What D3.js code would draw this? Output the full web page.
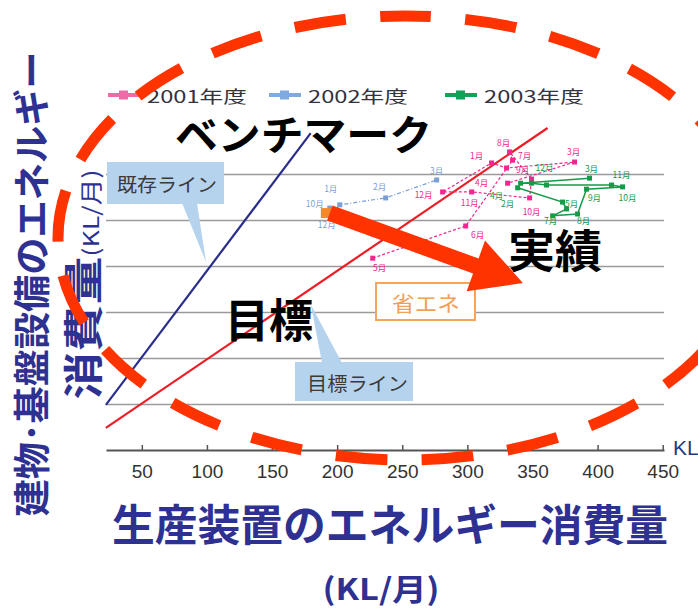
<!DOCTYPE html>
<html>
<head>
<meta charset="utf-8">
<script src="https://cdn.jsdelivr.net/npm/d3@7"></script>
<style>
  body { margin: 0; background: #fff; }
  svg { display: block; }
</style>
</head>
<body>
<svg id="chart" width="698" height="608"></svg>
<script>
// ---- data: monthly energy use (production equipment vs. building/infrastructure), KL/月 ----
const months2001 = ["5月","6月","7月","8月","9月","10月","11月","12月","1月","2月","3月","4月"];
const prod2001   = [227.3, 298.7, 334.7, 332.4, 349.3, 347.8, 303.3, 281.0, 318.6, 330.1, 382.3, 330.9];
const bldg2001   = [41.7, 48.7, 63.0, 64.8, 58.9, 54.8, 56.1, 56.1, 62.4, 61.3, 62.6, 58.0];

const months2002 = ["10月","12月","1月","2月","3月"];
const prod2002   = [194.3, 197.4, 202.0, 237.3, 276.4];
const bldg2002   = [52.6, 52.0, 53.3, 54.8, 58.7];

const months2003 = ["4月","5月","6月","7月","8月","9月","10月","11月","12月","1月","2月","3月"];
const prod2003   = [338.6, 373.1, 376.2, 365.5, 384.6, 391.5, 419.2, 410.7, 360.8, 349.3, 340.9, 393.8];
const bldg2003   = [57.0, 53.9, 52.4, 50.9, 51.3, 56.7, 57.2, 57.6, 57.6, 58.0, 58.0, 59.1];

// reference lines: existing (benchmark) line and target line, given by end points
const benchmarkX = [22.4, 179.7];
const benchmarkY = [9.8, 68.9];
const targetX    = [22.4, 361.6];
const targetY    = [4.8, 70.0];

const xTickValues = [50, 100, 150, 200, 250, 300, 350, 400, 450];
const gridValues  = [10, 20, 30, 40, 50, 60];
const legendLabels = ["2001年度", "2002年度", "2003年度"];

// start point (highlighted month) and tip of the 省エネ arrow
const arrowFrom = [194.4, 51.5];
const arrowTo   = [342.6, 36.3];

// ---- layout ----
const svg = d3.select("#chart");
const navy = "#2e3192";
const jp = "'Noto Sans CJK JP', 'Noto Sans', sans-serif";
const latin = "'Liberation Sans', Arial, sans-serif";

const x = d3.scaleLinear().domain([22.5, 451]).range([106, 664]);
const y = d3.scaleLinear().domain([0, 70]).range([450, 128]);

const seriesStyle = [
  { color: "#f2268e", legend: "#f06aa8", dash: "3,2", width: 1.2 },
  { color: "#7d9fd8", legend: "#7eaae0", dash: "4,2,1,2", width: 1.2 },
  { color: "#129c48", legend: "#0ea457", dash: null, width: 1.5 }
];

// month-label offsets (px) relative to each point; null = no label
const labelOffsets = [
  [[7,9],[12,8],[12,-5],[-6,-10],[-9,-10],[2,13],[-2,10],[-19,2],[-15,-8],null,[-1,-11],[-26,-1]],
  [[-15,-5],[-7,13],[-9,-17],[-6,-12],[0,-10]],
  [[-21,7],[9,1],null,[-2,4],[6,6],[8,8],[5,10],[10,-11],[-2,-18],null,[-13,20],[2,-10]]
];

const series = [
  { months: months2001, xs: prod2001, ys: bldg2001 },
  { months: months2002, xs: prod2002, ys: bldg2002 },
  { months: months2003, xs: prod2003, ys: bldg2003 }
];

// ---- gridlines ----
svg.append("g")
  .attr("transform", `translate(${x.range()[0]},0)`)
  .call(d3.axisLeft(y).tickValues(gridValues).tickSize(-(x.range()[1] - x.range()[0])).tickFormat(""))
  .call(g => g.select(".domain").remove())
  .call(g => g.selectAll(".tick line").attr("stroke", "#9a9a9a").attr("stroke-width", 1.6));

// ---- x axis ----
const xAxis = svg.append("g")
  .attr("transform", `translate(0,${y(0)})`)
  .call(d3.axisBottom(x).tickValues(xTickValues).tickSize(-5).tickSizeOuter(0).tickFormat(d3.format("d")));
xAxis.select(".domain").attr("stroke", "#555").attr("stroke-width", 2);
xAxis.selectAll(".tick line").attr("stroke", "#555").attr("stroke-width", 1.5);
xAxis.selectAll(".tick text")
  .attr("y", 15).attr("dy", "0.71em")
  .attr("font-family", latin).attr("font-size", 19).attr("fill", "#333");

svg.append("text")
  .attr("x", 673).attr("y", 447)
  .attr("dominant-baseline", "central")
  .attr("font-family", latin).attr("font-size", 21).attr("fill", "#1f3a7a")
  .text("KL");

// ---- reference lines ----
svg.append("line")
  .attr("x1", x(benchmarkX[0])).attr("y1", y(benchmarkY[0]))
  .attr("x2", x(benchmarkX[1])).attr("y2", y(benchmarkY[1]))
  .attr("stroke", "#2b2d8c").attr("stroke-width", 2.2);
svg.append("line")
  .attr("x1", x(targetX[0])).attr("y1", y(targetY[0]))
  .attr("x2", x(targetX[1])).attr("y2", y(targetY[1]))
  .attr("stroke", "#ee1c25").attr("stroke-width", 2.2);

// ---- monthly series ----
const line = d3.line().x(d => x(d.x)).y(d => y(d.y));
series.forEach((s, i) => {
  const st = seriesStyle[i];
  const pts = s.months.map((m, k) => ({ m, x: s.xs[k], y: s.ys[k], off: labelOffsets[i][k] }));
  const g = svg.append("g");
  g.append("path").datum(pts)
    .attr("d", line).attr("fill", "none")
    .attr("stroke", st.color).attr("stroke-width", st.width)
    .attr("stroke-dasharray", st.dash);
  g.selectAll("rect").data(pts).join("rect")
    .attr("x", d => x(d.x) - 2.5).attr("y", d => y(d.y) - 2.5)
    .attr("width", 5).attr("height", 5).attr("fill", st.color);
  g.selectAll("text").data(pts.filter(d => d.off)).join("text")
    .attr("x", d => x(d.x) + d.off[0]).attr("y", d => y(d.y) + d.off[1])
    .attr("text-anchor", "middle").attr("dominant-baseline", "central")
    .attr("font-family", jp).attr("font-size", 8.5).attr("fill", st.color)
    .text(d => d.m);
});

// ---- legend ----
const legendX = [108, 269, 445];
legendLabels.forEach((lab, i) => {
  const st = seriesStyle[i];
  const lx = legendX[i], ly = 95;
  svg.append("line").attr("x1", lx).attr("x2", lx + 32).attr("y1", ly).attr("y2", ly)
    .attr("stroke", st.legend).attr("stroke-width", 4);
  svg.append("rect").attr("x", lx + 11).attr("y", ly - 4.5).attr("width", 9).attr("height", 9)
    .attr("fill", st.legend);
  svg.append("text").attr("x", lx + 39).attr("y", ly)
    .attr("dominant-baseline", "central")
    .attr("font-family", jp).attr("font-size", 17).attr("fill", "#33333f")
    .attr("textLength", 100).attr("lengthAdjust", "spacingAndGlyphs")
    .text(lab);
});

// ---- callouts ----
function callout(box, pointer, label, textBox) {
  svg.append("polygon").attr("points", pointer.map(p => p.join(",")).join(" ")).attr("fill", "#b6d3ee");
  svg.append("rect").attr("x", box[0]).attr("y", box[1]).attr("width", box[2]).attr("height", box[3])
    .attr("fill", "#b6d3ee");
  svg.append("text").attr("x", textBox[0]).attr("y", textBox[1])
    .attr("dominant-baseline", "central")
    .attr("font-family", jp).attr("font-size", 19).attr("fill", "#3a3a3a")
    .attr("textLength", textBox[2]).attr("lengthAdjust", "spacingAndGlyphs")
    .text(label);
}
callout([107, 162, 117, 42], [[182, 203], [197, 203], [206, 262]], "既存ライン", [117, 183, 100]);
callout([295, 362, 118, 39], [[322, 363], [342, 363], [311, 305]], "目標ライン", [307, 382, 101]);

// 省エネ box
svg.append("rect").attr("x", 376).attr("y", 283).attr("width", 99).attr("height", 37)
  .attr("fill", "#fff").attr("stroke", "#f6a35c").attr("stroke-width", 2);
svg.append("text").attr("x", 392).attr("y", 302)
  .attr("dominant-baseline", "central")
  .attr("font-family", jp).attr("font-size", 21).attr("fill", "#f2a057")
  .attr("textLength", 68).attr("lengthAdjust", "spacingAndGlyphs")
  .text("省エネ");

// ---- big labels ----
function bigText(txt, x0, yc, size, len) {
  svg.append("text").attr("x", x0).attr("y", yc)
    .attr("dominant-baseline", "central")
    .attr("font-family", jp).attr("font-weight", 700).attr("font-size", size).attr("fill", "#000")
    .attr("textLength", len).attr("lengthAdjust", "spacingAndGlyphs")
    .text(txt);
}
bigText("ベンチマーク", 175, 132, 41, 257);
bigText("目標", 225, 317, 46, 88);
bigText("実績", 508, 248, 45, 94);

// ---- highlighted start month and the 省エネ arrow ----
svg.append("rect")
  .attr("x", x(arrowFrom[0]) - 9).attr("y", y(arrowFrom[1]) - 5)
  .attr("width", 12).attr("height", 10).attr("fill", "#f28a2c");

(function drawArrow() {
  const x0 = x(arrowFrom[0]), y0 = y(arrowFrom[1]);
  const x1 = x(arrowTo[0]), y1 = y(arrowTo[1]);
  const len = Math.hypot(x1 - x0, y1 - y0);
  const ux = (x1 - x0) / len, uy = (y1 - y0) / len;
  const nx = -uy, ny = ux;
  const sw = 8, hl = 50, hw = 27;
  const bx = x1 - ux * hl, by = y1 - uy * hl;
  const pts = [
    [x0 + nx * sw, y0 + ny * sw],
    [bx + nx * sw, by + ny * sw],
    [bx + nx * hw, by + ny * hw],
    [x1, y1],
    [bx - nx * hw, by - ny * hw],
    [bx - nx * sw, by - ny * sw],
    [x0 - nx * sw, y0 - ny * sw]
  ];
  svg.append("polygon").attr("points", pts.map(p => p.join(",")).join(" ")).attr("fill", "#ff3300");
})();

// ---- axis titles ----
svg.append("text")
  .attr("transform", "translate(30,284) rotate(-90)")
  .attr("text-anchor", "middle").attr("dominant-baseline", "central")
  .attr("font-family", jp).attr("font-weight", 700).attr("font-size", 37).attr("fill", navy)
  .attr("textLength", 465).attr("lengthAdjust", "spacingAndGlyphs")
  .text("建物･基盤設備のエネルギー");
svg.append("text")
  .attr("transform", "translate(81,328) rotate(-90)")
  .attr("text-anchor", "middle").attr("dominant-baseline", "central")
  .attr("font-family", jp).attr("font-weight", 700).attr("font-size", 40).attr("fill", navy)
  .attr("textLength", 143).attr("lengthAdjust", "spacingAndGlyphs")
  .text("消費量");
svg.append("text")
  .attr("transform", "translate(89,213) rotate(-90)")
  .attr("text-anchor", "middle").attr("dominant-baseline", "central")
  .attr("font-family", jp).attr("font-size", 22).attr("fill", navy)
  .attr("textLength", 87).attr("lengthAdjust", "spacingAndGlyphs")
  .text("(KL/月)");

svg.append("text")
  .attr("x", 390).attr("y", 522)
  .attr("text-anchor", "middle").attr("dominant-baseline", "central")
  .attr("font-family", jp).attr("font-weight", 700).attr("font-size", 43).attr("fill", navy)
  .attr("textLength", 556).attr("lengthAdjust", "spacingAndGlyphs")
  .text("生産装置のエネルギー消費量");
svg.append("text")
  .attr("x", 381).attr("y", 587)
  .attr("text-anchor", "middle").attr("dominant-baseline", "central")
  .attr("font-family", jp).attr("font-weight", 700).attr("font-size", 30).attr("fill", navy)
  .attr("textLength", 117).attr("lengthAdjust", "spacingAndGlyphs")
  .text("(KL/月)");

// ---- dashed ellipse highlighting the chart ----
(function drawEllipse() {
  const cx = 405, cy = 238, rx = 347, ry = 222;
  const path = svg.append("path")
    .attr("d", `M${cx},${cy - ry} A${rx},${ry} 0 1 1 ${cx},${cy + ry} A${rx},${ry} 0 1 1 ${cx},${cy - ry}`)
    .attr("fill", "none").attr("stroke", "#ff3300").attr("stroke-width", 11);
  const L = path.node().getTotalLength();
  const period = L / 21;
  const dash = period * 0.6;
  path.attr("stroke-dasharray", `${dash},${period - dash}`)
    .attr("stroke-dashoffset", dash / 2);
})();
</script>
</body>
</html>
